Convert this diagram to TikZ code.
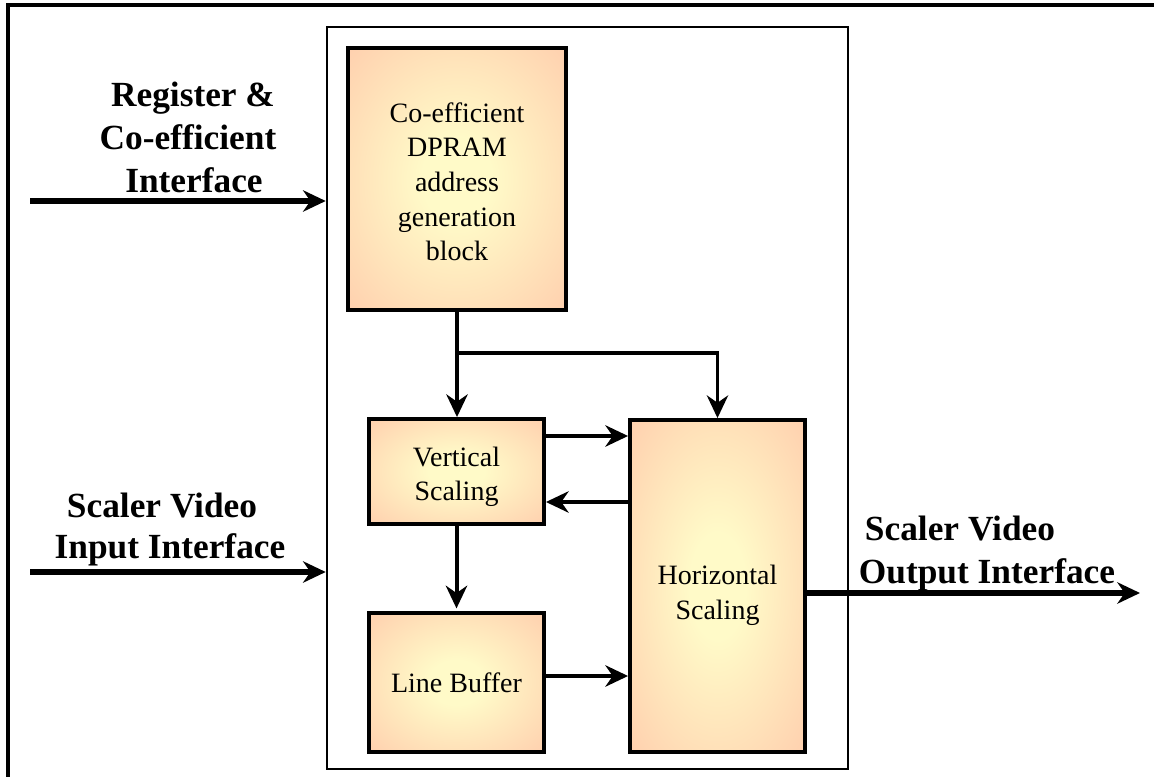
\documentclass[tikz,border=0pt]{standalone}
\usepackage{fontspec}
\setmainfont{Liberation Serif}
\usetikzlibrary{arrows.meta}

% peach blocks with a pale yellow glow in the middle
\definecolor{glowout}{RGB}{255,204,172}
\definecolor{glowin}{RGB}{255,250,200}
\pgfdeclareradialshading{boxglow}{\pgfpoint{0bp}{0bp}}{%
  color(0bp)=(glowin); color(8bp)=(glowin); color(38bp)=(glowout); color(50bp)=(glowout)}

\tikzset{
  blk/.style={draw=black, line width=2.9pt, shading=boxglow, inner sep=0pt},
  blktext/.style={align=center, inner sep=0pt, font=\fontsize{21}{26}\selectfont},
  iflabel/.style={anchor=base, inner sep=0pt, font=\fontsize{26.5}{32}\selectfont\bfseries},
  headtip/.style={-{Stealth[length=17pt,width=16pt,inset=5.5pt]}},
  feed/.style={headtip, line width=3.8pt},
  link/.style={headtip, line width=3pt},
  branch/.style={headtip, line width=2.4pt},
}

\begin{document}
\begin{tikzpicture}[x=0.75pt, y=-0.75pt]
\useasboundingbox (0,0) rectangle (1154,777);

% outer frame (top and left edges)
\draw[line width=2.4pt] (8,777) -- (8,5) -- (1154,5);

% scaler core
\node[draw, line width=1.9pt, minimum width=390.75pt, minimum height=556.5pt, inner sep=0pt]
  (core) at (587.5,398) {};

% processing blocks
\node[blk, minimum width=163.5pt, minimum height=196.5pt] (coef) at (457,179) {};
\node[blktext, yshift=-2pt] (coeftxt) at (coef.center)
  {Co-efficient\\DPRAM\\address\\generation\\block};
\node[blk, minimum width=131.25pt, minimum height=78.75pt] (vs) at (456.5,471.5) {};
\node[blktext, yshift=-4pt] (vstxt) at (vs.center) {Vertical\\Scaling};
\node[blk, minimum width=131.25pt, minimum height=104.25pt] (lb) at (456.5,682.5) {};
\node[blktext] (lbtxt) at (lb.center) {Line Buffer};
\node[blk, minimum width=131.25pt, minimum height=249pt] (hs) at (717.5,586) {};
\node[blktext, yshift=-7pt] (hstxt) at (hs.center) {Horizontal\\Scaling};

% interface labels
\node[iflabel] (reg1) at (193,107) {Register \&};
\node[iflabel] (reg2) at (188,150) {Co-efficient};
\node[iflabel] (reg3) at (194,193) {Interface};
\node[iflabel] (in1) at (162,517) {Scaler Video};
\node[iflabel] (in2) at (170,558) {Input Interface};
\node[iflabel] (out1) at (960,540) {Scaler Video};
\node[iflabel] (out2) at (987,583) {Output Interface};

% external connections
\coordinate (regsrc) at (30,201);
\coordinate (insrc) at (30,572);
\coordinate (outdst) at (1140,593);
\draw[feed] (regsrc) -- (regsrc -| core.west);
\draw[feed] (insrc) -- (insrc -| core.west);
\draw[feed] (hs.east |- outdst) -- (outdst);

% internal connections
\coordinate (split) at (457,353);
\draw[link] (coef.south) -- (coef.south |- vs.north);
\draw[branch] (coef.south |- split) -| (hs.north);
\draw[link] (vs.east |- 0,436) -- (hs.west |- 0,436);
\draw[link] (hs.west |- 0,502) -- (vs.east |- 0,502);
\draw[link, shorten >=2pt] (vs.south) -- (lb.north);
\draw[link] (lb.east |- 0,676) -- (hs.west |- 0,676);
\end{tikzpicture}
\end{document}
